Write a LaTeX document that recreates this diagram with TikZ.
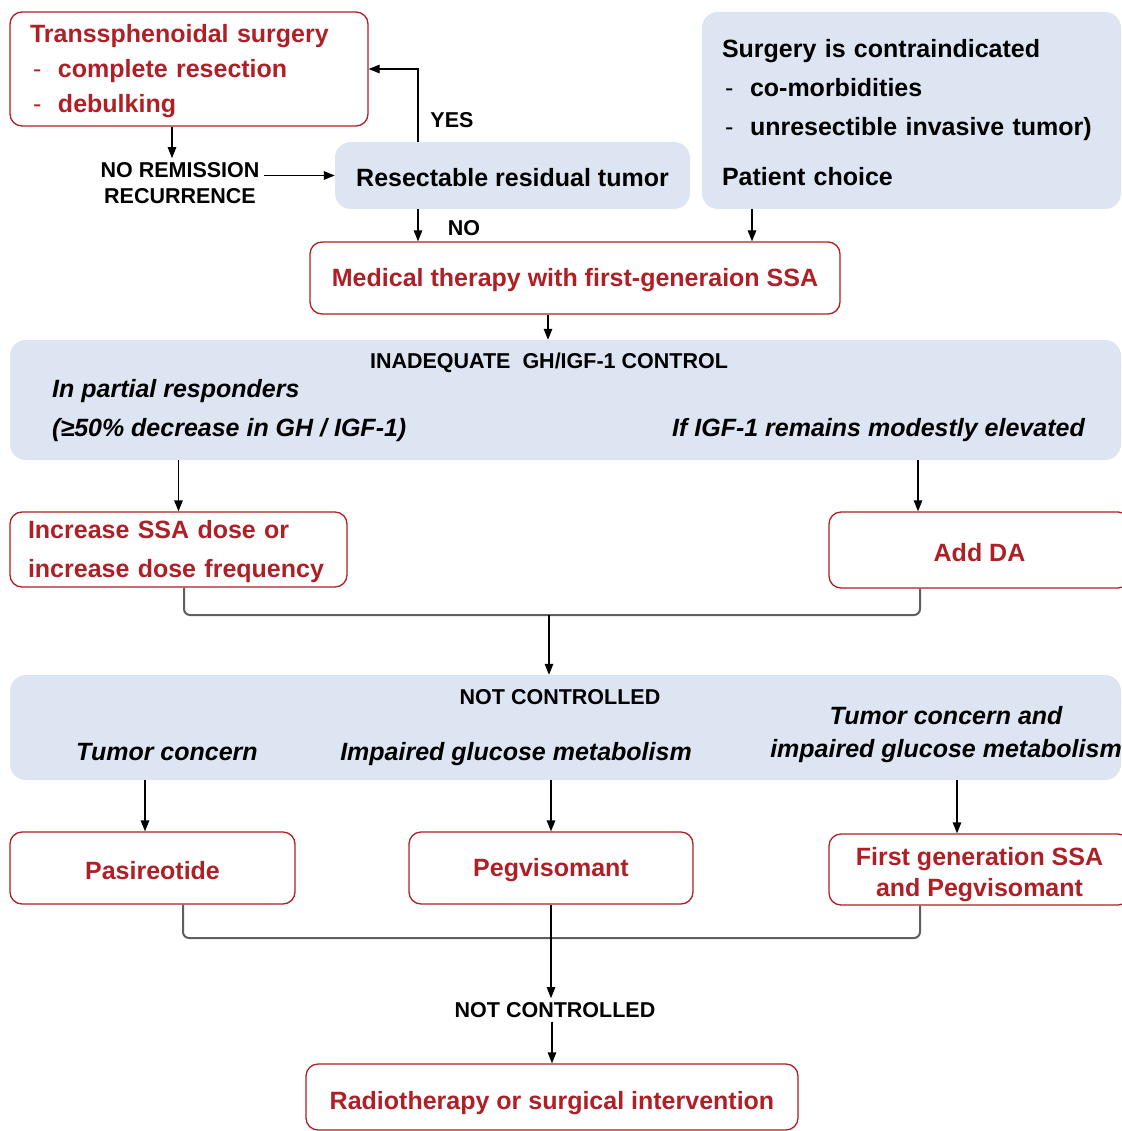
\documentclass[tikz,border=0pt]{standalone}
\usepackage{fontspec}
\setmainfont{Liberation Sans}
\usepackage{xcolor}
\usepackage{tikz}
\usetikzlibrary{arrows.meta, positioning, calc}

\definecolor{boxred}{RGB}{175,32,38}
\definecolor{bandblue}{RGB}{220,229,241}
\definecolor{bracegray}{RGB}{95,95,95}

\newcommand{\boxfont}{\fontsize{25}{30}\selectfont\bfseries}
\newcommand{\tagfont}{\fontsize{21.5}{26}\selectfont\bfseries}
\newcommand{\notefont}{\fontsize{25}{33}\selectfont\bfseries\itshape}
\newcommand{\dashitem}[1]{\hspace*{3pt}\makebox[25pt][l]{\mdseries -}#1}
\newcommand{\topstrut}{\rule{0pt}{23pt}}

\tikzset{
  redbox/.style={
    rectangle, rounded corners=12pt, draw=boxred, fill=white,
    line width=1.3pt, font=\boxfont, text=boxred, align=center,
    execute at begin node=\topstrut
  },
  bluebox/.style={
    rectangle, rounded corners=16pt, fill=bandblue, draw=none,
    font=\boxfont, text=black, execute at begin node=\topstrut
  },
  band/.style={rectangle, rounded corners=16pt, fill=bandblue, draw=none},
  tag/.style={font=\tagfont, inner sep=4pt, align=center},
  note/.style={font=\notefont, inner sep=5pt, align=center},
  arrow/.style={-{Triangle[length=11pt,width=8.5pt]}, line width=1.3pt},
  brace/.style={line width=2pt, draw=bracegray, rounded corners=6pt},
}

\begin{document}
\begin{tikzpicture}[x=1pt, y=-1pt]
    \useasboundingbox (0,0) rectangle (1121,1131);

    %% Surgery and residual tumor
    \node[redbox, minimum width=358, minimum height=114, text width=318, align=left,
          inner xsep=20pt, font=\fontsize{25}{35}\selectfont\bfseries] (surg) at (189,69) {
      Transsphenoidal surgery\\
      \dashitem{complete resection}\\
      \dashitem{debulking}
    };
    \node[tag] (remis) at (180,183) {NO REMISSION\\RECURRENCE};
    \node[bluebox, minimum width=355, minimum height=67] (resect) at (512.5,175.5) {Resectable residual tumor};
    \node[tag] (yes) at (452,120) {YES};
    \node[tag] (no) at (464,228) {NO};
    \node[bluebox, minimum width=419, minimum height=197, text width=379, align=left,
          inner xsep=20pt, font=\fontsize{25}{39}\selectfont\bfseries] (contra) at (911.5,110.5) {
      Surgery is contraindicated\\
      \dashitem{co-morbidities}\\
      \dashitem{unresectible invasive tumor)}\\[11pt]
      Patient choice
    };

    %% First-line medical therapy
    \node[redbox, minimum width=530, minimum height=72] (medth) at (575,278) {Medical therapy with first-generaion SSA};

    \node[band, minimum width=1111, minimum height=120] (band1) at (565.5,400) {};
    \node[tag] (inadeq) at (549,363) {INADEQUATE\ \ GH/IGF-1 CONTROL};
    \node[note, anchor=west] (partial) at (47,391) {In partial responders};
    \node[note, anchor=west] (decrease) at (47,430.5) {(≥50\% decrease in GH / IGF-1)};
    \node[note, anchor=east] (modest) at (1090,430.5) {If IGF-1 remains modestly elevated};

    \node[redbox, minimum width=337, minimum height=75, text width=301, align=left,
          inner xsep=18pt, font=\fontsize{25}{39}\selectfont\bfseries] (incr) at (178.5,549.5) {
      Increase SSA dose or\\increase dose frequency
    };
    \node[redbox, minimum width=301, minimum height=76] (adda) at (979.5,550) {Add DA};
    \coordinate (join1) at (549,615);

    %% Second-line options
    \node[band, minimum width=1111, minimum height=105] (band2) at (565.5,727.5) {};
    \node[tag] (notc1) at (560,697) {NOT CONTROLLED};
    \node[note] (tumor) at (167,752) {Tumor concern};
    \node[note] (glucose) at (516,754) {Impaired glucose metabolism};
    \node[note] (both) at (946,735) {Tumor concern and\\impaired glucose metabolism};

    \node[redbox, minimum width=285, minimum height=72] (pasi) at (152.5,868) {Pasireotide};
    \node[redbox, minimum width=284, minimum height=72] (pegv) at (551,868) {Pegvisomant};
    \node[redbox, minimum width=301, minimum height=71,
          font=\fontsize{25}{31}\selectfont\bfseries] (first) at (979.5,869.5) {\rule{0pt}{28pt}First generation SSA\\and Pegvisomant};
    \coordinate (join2) at (551,938);

    \node[tag] (notc2) at (555,1010) {NOT CONTROLLED};
    \node[redbox, minimum width=492, minimum height=66] (radio) at (552,1097) {\rule{0pt}{30pt}Radiotherapy or surgical intervention};

    %% Arrows
    \draw[arrow] ([xshift=-17pt]surg.south) -- ([xshift=-17pt]surg.south |- remis.north);
    \draw[arrow] (remis.east |- resect.west) -- (resect.west);
    \draw[arrow] ([xshift=-94.5pt]resect.north) |- (surg.east);
    \draw[arrow] ([xshift=-94.5pt]resect.south) -- ([xshift=-94.5pt]resect.south |- medth.north);
    \draw[arrow] ([xshift=-159.5pt]contra.south) -- ([xshift=-159.5pt]contra.south |- medth.north);
    \draw[arrow] ([xshift=-27pt]medth.south) -- ([xshift=-27pt]medth.south |- band1.north);
    \draw[arrow] (band1.south -| incr.north) -- (incr.north);
    \draw[arrow] ([xshift=-61.5pt]adda.north |- band1.south) -- ([xshift=-61.5pt]adda.north);
    \draw[brace] ([xshift=5.5pt]incr.south) |- (join1) -| ([xshift=-59.5pt]adda.south);
    \draw[arrow] (join1) -- (join1 |- band2.north);
    \draw[arrow] ([xshift=-7.5pt]pasi.north |- band2.south) -- ([xshift=-7.5pt]pasi.north);
    \draw[arrow] (band2.south -| pegv.north) -- (pegv.north);
    \draw[arrow] ([xshift=-22.5pt]first.north |- band2.south) -- ([xshift=-22.5pt]first.north);
    \draw[brace] ([xshift=30.5pt]pasi.south) |- (join2) -| ([xshift=-59.5pt]first.south);
    \draw[arrow] (pegv.south) -- (join2 |- notc2.north);
    \draw[arrow] (notc2.south -| radio.north) -- (radio.north);

\end{tikzpicture}
\end{document}
